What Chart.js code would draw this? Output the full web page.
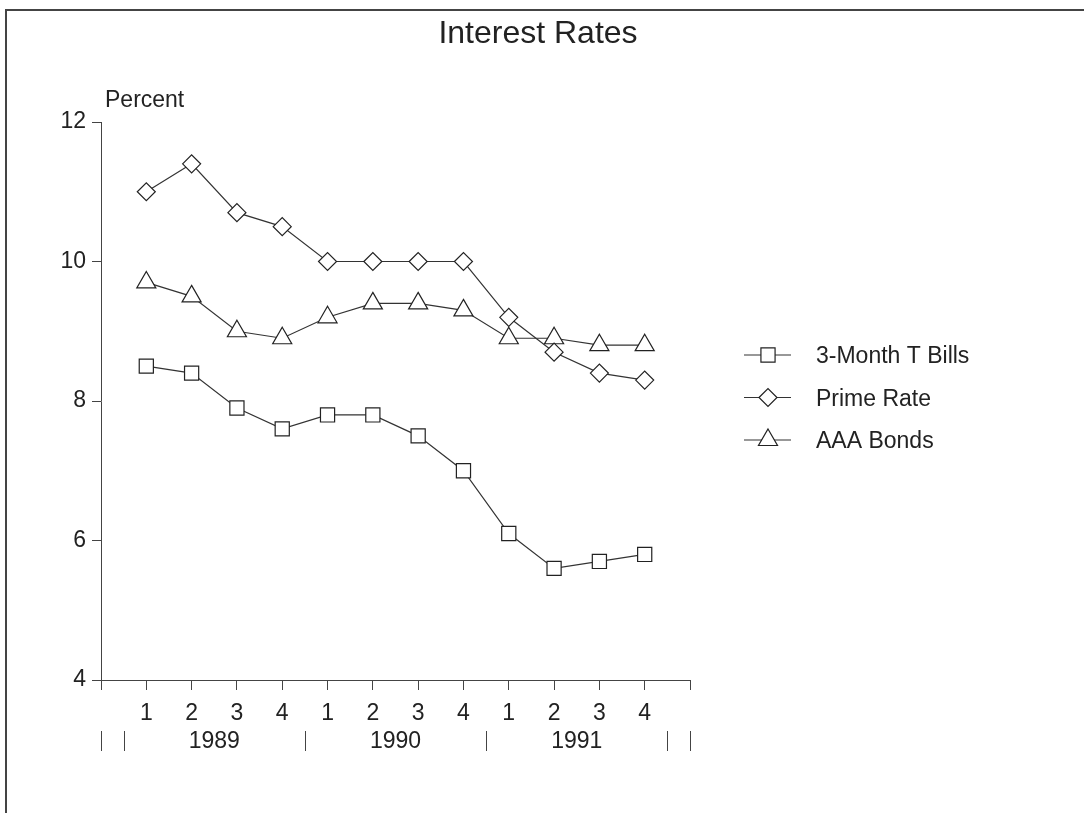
<!DOCTYPE html>
<html>
<head>
<meta charset="utf-8">
<title>Interest Rates</title>
<script src="https://cdn.jsdelivr.net/npm/chart.js@4/dist/chart.umd.min.js"></script>
<style>
  html, body { margin: 0; padding: 0; background: #fff; }
  #wrap { width: 1084px; height: 813px; position: relative; }
</style>
</head>
<body>
<div id="wrap"><canvas id="rateChart" width="1084" height="813"></canvas></div>
<script>
const years = ['1989', '1990', '1991'];
const quarters = ['1', '2', '3', '4', '1', '2', '3', '4', '1', '2', '3', '4'];
const seriesNames = ['3-Month T Bills', 'Prime Rate', 'AAA Bonds'];
const tBills = [8.5, 8.4, 7.9, 7.6, 7.8, 7.8, 7.5, 7.0, 6.1, 5.6, 5.7, 5.8];
const primeRate = [11.0, 11.4, 10.7, 10.5, 10.0, 10.0, 10.0, 10.0, 9.2, 8.7, 8.4, 8.3];
const aaaBonds = [9.7, 9.5, 9.0, 8.9, 9.2, 9.4, 9.4, 9.3, 8.9, 8.9, 8.8, 8.8];
const yTicks = [4, 6, 8, 10, 12];

const FONT = '"Liberation Sans", Arial, Helvetica, sans-serif';
const INK = '#222';

// quarters sit at x = 1..12, axis runs 0..13
function toPoints(arr) {
  return arr.map((v, i) => ({ x: i + 1, y: v }));
}

function lineSet(label, data, style, radius) {
  return {
    label: label,
    data: toPoints(data),
    borderColor: '#333',
    borderWidth: 1.2,
    pointStyle: style,
    pointRadius: radius,
    pointBackgroundColor: '#fff',
    pointBorderColor: INK,
    pointBorderWidth: 1.2,
    tension: 0
  };
}

const extras = {
  id: 'extras',
  afterDraw(chart) {
    const ctx = chart.ctx;
    const xs = chart.scales.x;
    ctx.save();

    // outer frame (top and left)
    ctx.strokeStyle = '#444';
    ctx.lineWidth = 2;
    ctx.beginPath();
    ctx.moveTo(6, 813);
    ctx.lineTo(6, 10);
    ctx.lineTo(1084, 10);
    ctx.stroke();

    ctx.fillStyle = INK;
    ctx.textBaseline = 'alphabetic';

    // title
    ctx.font = '32px ' + FONT;
    ctx.textAlign = 'center';
    ctx.fillText('Interest Rates', 538, 43);

    // axis caption
    ctx.font = '23px ' + FONT;
    ctx.textAlign = 'left';
    ctx.fillText('Percent', 105, 107);

    // year labels and separators
    ctx.textAlign = 'center';
    ctx.textBaseline = 'middle';
    years.forEach((yr, i) => {
      ctx.fillText(yr, xs.getPixelForValue(i * 4 + 2.5), 742);
    });
    const breaks = [xs.min, xs.max];
    for (let i = 0; i <= years.length; i++) breaks.push(i * 4 + 0.5);
    ctx.strokeStyle = '#444';
    ctx.lineWidth = 1;
    breaks.forEach(v => {
      const px = Math.round(xs.getPixelForValue(v)) + 0.5;
      ctx.beginPath();
      ctx.moveTo(px, 731);
      ctx.lineTo(px, 751);
      ctx.stroke();
    });

    // legend
    chart.data.datasets.forEach((ds, i) => {
      const y = 355 + i * 42.5;
      ctx.strokeStyle = '#333';
      ctx.lineWidth = 1.2;
      ctx.beginPath();
      ctx.moveTo(744, y);
      ctx.lineTo(791, y);
      ctx.stroke();
      ctx.fillStyle = '#fff';
      ctx.strokeStyle = INK;
      Chart.helpers.drawPoint(ctx, {
        pointStyle: ds.pointStyle,
        radius: ds.pointRadius,
        rotation: 0,
        borderWidth: 1.2
      }, 768, y);
      ctx.fillStyle = INK;
      ctx.textAlign = 'left';
      ctx.textBaseline = 'middle';
      ctx.font = '23px ' + FONT;
      ctx.fillText(ds.label, 816, y + 2);
    });

    ctx.restore();
  }
};

new Chart(document.getElementById('rateChart'), {
  type: 'line',
  data: {
    datasets: [
      lineSet(seriesNames[0], tBills, 'rect', 10),
      lineSet(seriesNames[1], primeRate, 'rectRot', 9),
      lineSet(seriesNames[2], aaaBonds, 'triangle', 11)
    ]
  },
  options: {
    responsive: false,
    animation: false,
    layout: { padding: { left: 0, top: 122, right: 394, bottom: 0 } },
    plugins: {
      legend: { display: false },
      title: { display: false },
      tooltip: { enabled: false }
    },
    scales: {
      x: {
        type: 'linear',
        min: 0,
        max: quarters.length + 1,
        afterFit(scale) { scale.height = 133; },
        afterBuildTicks(scale) {
          const t = [];
          for (let v = 0; v <= quarters.length + 1; v++) t.push({ value: v });
          scale.ticks = t;
        },
        ticks: {
          autoSkip: false,
          maxRotation: 0,
          padding: 10,
          color: INK,
          font: { family: FONT, size: 23 },
          callback: v => (v >= 1 && v <= quarters.length) ? quarters[v - 1] : ''
        },
        grid: { drawOnChartArea: false, drawTicks: true, tickLength: 10, color: '#444', lineWidth: 1 },
        border: { display: true, color: '#444', width: 1 }
      },
      y: {
        min: yTicks[0],
        max: yTicks[yTicks.length - 1],
        afterFit(scale) { scale.width = 101; },
        afterBuildTicks(scale) {
          scale.ticks = yTicks.map(v => ({ value: v }));
        },
        ticks: {
          padding: 6,
          color: INK,
          font: { family: FONT, size: 23 }
        },
        grid: { drawOnChartArea: false, drawTicks: true, tickLength: 9, color: '#444', lineWidth: 1 },
        border: { display: true, color: '#444', width: 1 }
      }
    }
  },
  plugins: [extras]
});
</script>
</body>
</html>
